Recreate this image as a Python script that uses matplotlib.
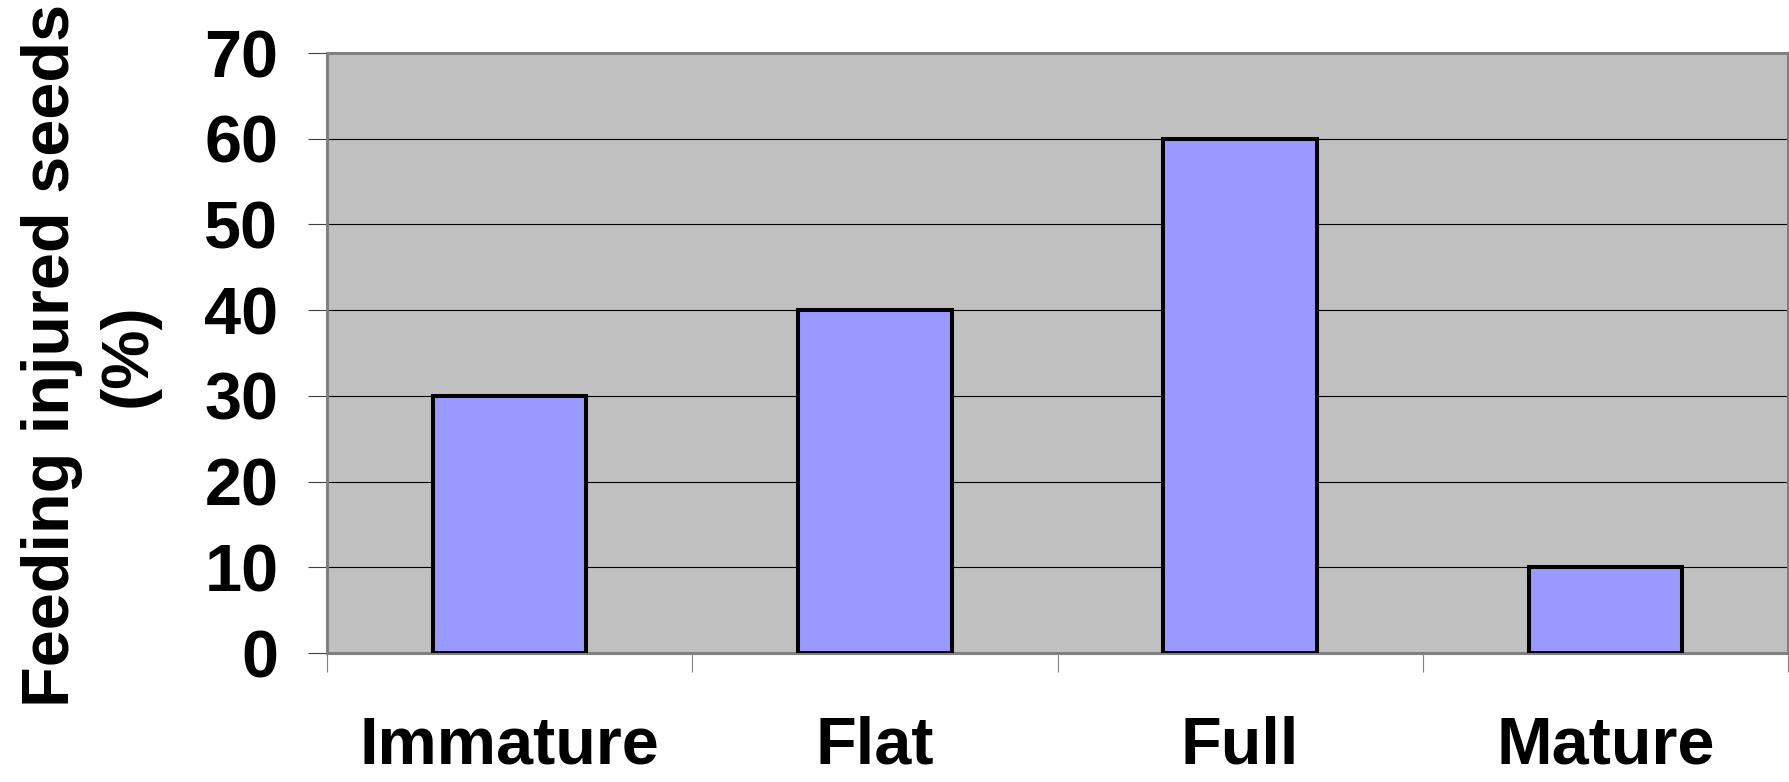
import matplotlib.pyplot as plt
import numpy as np

stages = ["Immature", "Flat", "Full", "Mature"]
injured_pct = [30, 40, 60, 10]
y_ticks = [0, 10, 20, 30, 40, 50, 60, 70]

plt.rcParams['font.family'] = ['Liberation Sans', 'DejaVu Sans']
plt.rcParams['font.weight'] = 'bold'

W, H, DPI = 1789, 782, 100
fig = plt.figure(figsize=(W / DPI, H / DPI), dpi=DPI)
ax = fig.add_axes([327 / W, (H - 653) / H, 1461 / W, 600 / H])
ax.set_facecolor("#C0C0C0")

x = np.arange(len(stages))
ax.bar(x, injured_pct, width=0.42, color="#9999FF", edgecolor="black",
       linewidth=2.9, zorder=3)

ax.set_xlim(-0.5, len(stages) - 0.5)
ax.set_ylim(0, 70)

# horizontal gridlines
ax.set_yticks(y_ticks)
ax.yaxis.grid(True, color="black", linewidth=0.8, zorder=1)
ax.set_axisbelow(True)
ax.tick_params(axis="y", length=14, width=0.8, color="#404040", pad=21,
               labelsize=48)
for lab in ax.get_yticklabels():
    lab.set_fontweight("bold")

# tick marks at category boundaries, labels at centres
ax.set_xticks(np.arange(len(stages) + 1) - 0.5)
ax.set_xticklabels([])
ax.tick_params(axis="x", which="major", length=14, width=0.8, color="#808080")
ax.set_xticks(x, minor=True)
ax.set_xticklabels(stages, minor=True, fontsize=48, fontweight="bold")
ax.tick_params(axis="x", which="minor", length=0, pad=45)

for side in ["top", "right", "left", "bottom"]:
    ax.spines[side].set_color("#808080")
    ax.spines[side].set_linewidth(2.2)

fig.text(90 / W, 1 - 355 / H, "Feeding injured seeds\n(%)", rotation=90,
         ha="center", va="center", multialignment="center",
         fontsize=48, fontweight="bold", linespacing=1.3)

fig.savefig("out.png", dpi=DPI)
